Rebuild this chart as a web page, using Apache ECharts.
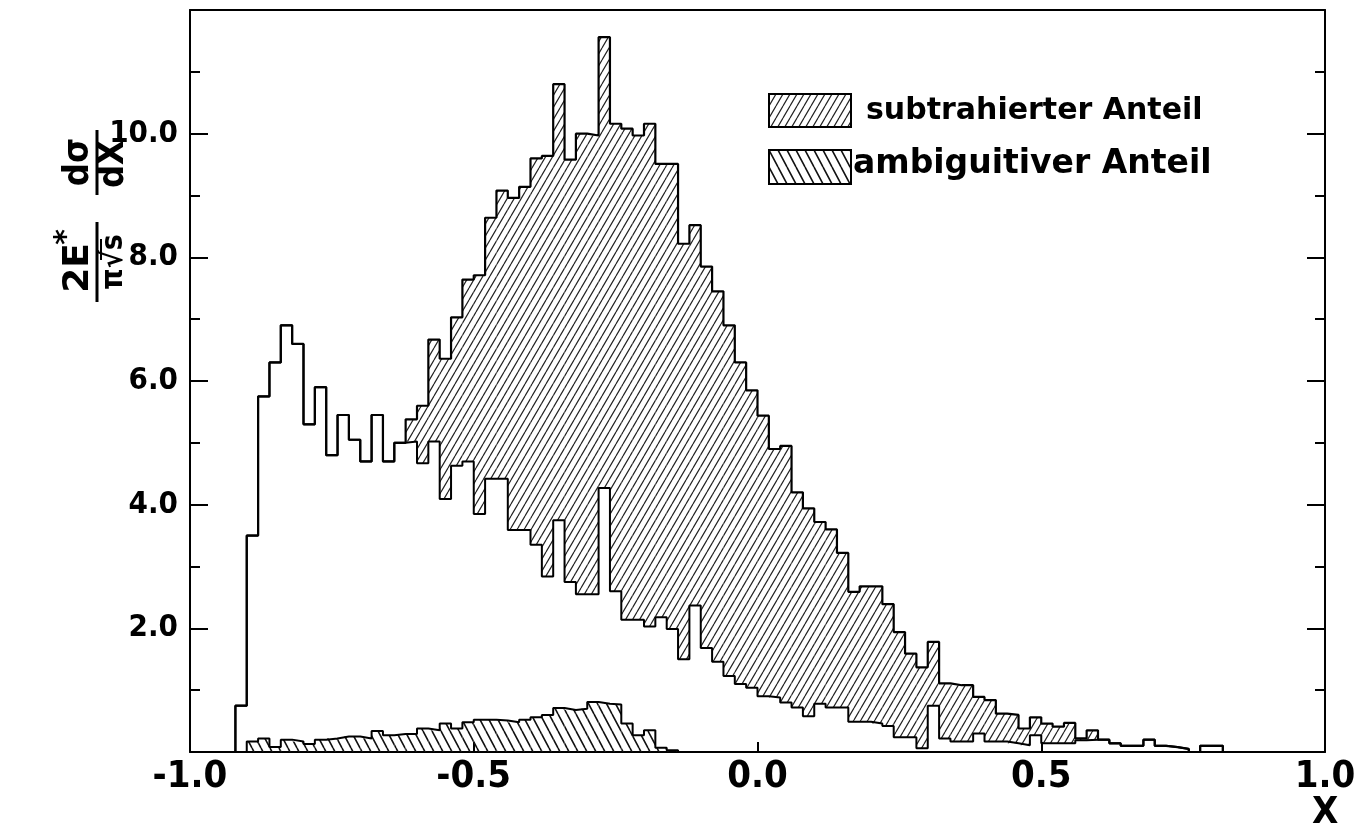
<!DOCTYPE html>
<html>
<head>
<meta charset="utf-8">
<script src="https://cdn.jsdelivr.net/npm/echarts@6/dist/echarts.min.js"></script>
<style>
html,body{margin:0;padding:0;background:#fff;}
#chart{width:1369px;height:840px;}
</style>
</head>
<body>
<div id="chart"></div>
<script>
// ---------- data ----------
const binStart = -0.92;   // left edge of first filled bin
const binWidth = 0.02;

// total distribution (upper outline)
const totalValues = [
  0.75, 3.5, 5.75, 6.3, 6.9, 6.6, 5.3, 5.9, 4.8, 5.45, 5.05, 4.7, 5.45, 4.7, 5.0,
  5.38, 5.6, 6.67, 6.36, 7.03, 7.64, 7.71, 8.64, 9.08, 8.96, 9.14, 9.60, 9.64, 10.8,
  9.58, 10.0, 9.97, 11.56, 10.16, 10.08, 9.97, 10.16, 9.51, 9.51, 8.22, 8.52, 7.85, 7.45, 6.9,
  6.3, 5.85, 5.44, 4.90, 4.95, 4.20, 3.94, 3.72, 3.60, 3.22, 2.59, 2.68, 2.68, 2.39, 1.94, 1.59, 1.37, 1.78,
  1.11, 1.08, 1.08, 0.89, 0.84, 0.62, 0.60, 0.38, 0.56, 0.46, 0.41, 0.47, 0.22, 0.35,
  0.2, 0.14, 0.1, 0.1, 0.2, 0.1, 0.08, 0.05, 0, 0.1, 0.1
];

// remaining distribution after subtraction (lower outline)
const remainderValues = [
  0.75, 3.5, 5.75, 6.3, 6.9, 6.6, 5.3, 5.9, 4.8, 5.45, 5.05, 4.7, 5.45, 4.7, 5.0,
  5.02, 4.67, 5.02, 4.09, 4.63, 4.70, 3.85, 4.42, 4.42, 3.59, 3.59, 3.35, 2.84, 3.75,
  2.75, 2.55, 2.55, 4.27, 2.6, 2.14, 2.14, 2.03, 2.18, 1.99, 1.50, 2.37, 1.68, 1.46, 1.23,
  1.1, 1.04, 0.90, 0.88, 0.80, 0.72, 0.58, 0.78, 0.72, 0.72, 0.49, 0.49, 0.46, 0.42, 0.24, 0.24, 0.06, 0.75,
  0.22, 0.17, 0.17, 0.30, 0.17, 0.17, 0.14, 0.11, 0.27, 0.14, 0.14, 0.14, 0.19, 0.2,
  0.2, 0.14, 0.1, 0.1, 0.2, 0.1, 0.08, 0.05, 0, 0.1, 0.1
];

// ambiguous part
const ambiguousStart = -0.90;
const ambiguousValues = [
  0.17, 0.22, 0.08, 0.20, 0.17, 0.13, 0.20, 0.22, 0.25, 0.25,
  0.22, 0.34, 0.27, 0.29, 0.29, 0.38, 0.35, 0.46, 0.38, 0.48,
  0.52, 0.52, 0.51, 0.48, 0.52, 0.56, 0.60, 0.71, 0.68, 0.70,
  0.81, 0.78, 0.77, 0.46, 0.27, 0.35, 0.07, 0.03
];

const legendLabels = ['subtrahierter Anteil', 'ambiguitiver Anteil'];
const xAxisTitle = 'X';

// ---------- helpers ----------
function makeHatch(w, h, dir, lw, color) {
  const c = document.createElement('canvas');
  c.width = w; c.height = h;
  const ctx = c.getContext('2d');
  ctx.strokeStyle = color;
  ctx.lineWidth = lw;
  ctx.beginPath();
  for (let k = -1; k <= 1; k++) {
    if (dir === '/') { ctx.moveTo(k * w, h); ctx.lineTo(k * w + w, 0); }
    else { ctx.moveTo(k * w, 0); ctx.lineTo(k * w + w, h); }
  }
  ctx.stroke();
  return c;
}
const subPattern = makeHatch(7, 12, '/', 1.2, '#222');
const ambPattern = makeHatch(9, 17, '\\', 1.6, '#111');

function edge(start, i) { return +(start + i * binWidth).toFixed(4); }

function stepPoints(start, values) {
  const pts = [[edge(start, 0), 0]];
  values.forEach((v, i) => pts.push([edge(start, i), v]));
  pts.push([edge(start, values.length), 0]);
  return pts;
}

const subItems = [];
totalValues.forEach((t, i) => {
  const r = remainderValues[i];
  if (t !== r) subItems.push([edge(binStart, i), edge(binStart, i + 1), Math.min(t, r), Math.max(t, r)]);
});
const ambItems = ambiguousValues.map((v, i) => [edge(ambiguousStart, i), edge(ambiguousStart, i + 1), 0, v]);

function hatchSeries(items, pattern, z) {
  return {
    type: 'custom', silent: true, z: z, clip: true,
    data: items,
    encode: { x: [0, 1], y: [2, 3] },
    renderItem: function (params, api) {
      const a = api.coord([api.value(0), api.value(3)]);
      const b = api.coord([api.value(1), api.value(2)]);
      return {
        type: 'rect',
        shape: { x: a[0], y: a[1], width: b[0] - a[0], height: b[1] - a[1] },
        style: { fill: { image: pattern, repeat: 'repeat' } }
      };
    }
  };
}

function stepSeries(points, width) {
  return {
    type: 'line', step: 'end', data: points, symbol: 'none', showSymbol: false,
    silent: true, z: 5,
    lineStyle: { color: '#000', width: width }
  };
}

const tickFont = 'DejaVu Sans Condensed';
const axisLineStyle = { color: '#000', width: 2 };

const chart = echarts.init(document.getElementById('chart'), null, { renderer: 'canvas' });
chart.setOption({
  animation: false,
  backgroundColor: '#fff',
  grid: { left: 190, right: 44, top: 10, bottom: 88 },
  xAxis: [
    {
      type: 'value', min: -1, max: 1, interval: 0.5, position: 'bottom',
      axisLine: { show: true, onZero: false, lineStyle: axisLineStyle },
      axisTick: { show: true, inside: true, length: 10, lineStyle: axisLineStyle },
      axisLabel: { formatter: v => v.toFixed(1), color: '#000', fontSize: 38, fontWeight: 'bold', fontFamily: tickFont, margin: 6 },
      splitLine: { show: false }
    },
    {
      type: 'value', min: -1, max: 1, interval: 0.5, position: 'top',
      axisLine: { show: true, onZero: false, lineStyle: axisLineStyle },
      axisTick: { show: false },
      axisLabel: { show: false }, splitLine: { show: false }
    }
  ],
  yAxis: [
    {
      type: 'value', min: 0, max: 12, interval: 2, position: 'left',
      axisLine: { show: true, onZero: false, lineStyle: axisLineStyle },
      axisTick: { show: true, inside: true, length: 18, lineStyle: axisLineStyle },
      minorTick: { show: true, splitNumber: 2, length: 10, lineStyle: { color: '#000', width: 2 } },
      axisLabel: { formatter: v => (v > 0 && v < 12) ? v.toFixed(1) : '', color: '#000', fontSize: 31, fontWeight: 'bold', fontFamily: tickFont, margin: 12 },
      splitLine: { show: false }, minorSplitLine: { show: false }
    },
    {
      type: 'value', min: 0, max: 12, interval: 2, position: 'right',
      axisLine: { show: true, onZero: false, lineStyle: axisLineStyle },
      axisTick: { show: true, inside: true, length: 18, lineStyle: axisLineStyle },
      minorTick: { show: true, splitNumber: 2, length: 10, lineStyle: { color: '#000', width: 2 } },
      axisLabel: { show: false },
      splitLine: { show: false }, minorSplitLine: { show: false }
    }
  ],
  series: [
    hatchSeries(subItems, subPattern, 2),
    hatchSeries(ambItems, ambPattern, 2),
    stepSeries(stepPoints(binStart, totalValues), 2.2),
    stepSeries(stepPoints(binStart, remainderValues), 2),
    stepSeries(stepPoints(ambiguousStart, ambiguousValues), 2)
  ],
  graphic: [
    // legend
    { type: 'rect', left: 768, top: 93, shape: { width: 82, height: 33 },
      style: { fill: { image: subPattern, repeat: 'repeat' }, stroke: '#000', lineWidth: 2 } },
    { type: 'text', left: 866, top: 96, style: { text: legendLabels[0], font: 'bold 30px "DejaVu Sans"', fill: '#000' } },
    { type: 'rect', left: 768, top: 149, shape: { width: 82, height: 34 },
      style: { fill: { image: ambPattern, repeat: 'repeat' }, stroke: '#000', lineWidth: 2 } },
    { type: 'text', left: 853, top: 148, style: { text: legendLabels[1], font: 'bold 33px "DejaVu Sans"', fill: '#000' } },
    // x-axis title
    { type: 'text', left: 1312, top: 794, style: { text: xAxisTitle, font: 'bold 38px "DejaVu Sans Condensed"', fill: '#000' } },
    // y-axis title (rotated formula)
    {
      type: 'group', x: 97, y: 215, rotation: Math.PI / 2,
      children: [
        { type: 'text', x: -53, y: -18, style: { text: '2E', font: 'bold 36px "DejaVu Sans"', fill: '#000', align: 'center', verticalAlign: 'middle' } },
        { type: 'text', x: -22, y: -30, style: { text: '*', font: 'bold 30px "DejaVu Sans"', fill: '#000', align: 'center', verticalAlign: 'middle' } },
        { type: 'line', shape: { x1: -87, y1: 0, x2: -7, y2: 0 }, style: { stroke: '#000', lineWidth: 3 } },
        { type: 'text', x: -47, y: 17, style: { text: 'π√s', font: 'bold 30px "DejaVu Sans Condensed"', fill: '#000', align: 'center', verticalAlign: 'middle' } },
        { type: 'line', shape: { x1: -45, y1: 4, x2: -24, y2: 4 }, style: { stroke: '#000', lineWidth: 2 } },
        { type: 'text', x: 53, y: -18, style: { text: 'dσ', font: 'bold 36px "DejaVu Sans Condensed"', fill: '#000', align: 'center', verticalAlign: 'middle' } },
        { type: 'line', shape: { x1: 20, y1: 0, x2: 85, y2: 0 }, style: { stroke: '#000', lineWidth: 3 } },
        { type: 'text', x: 51, y: 17, style: { text: 'dX', font: 'bold 36px "DejaVu Sans Condensed"', fill: '#000', align: 'center', verticalAlign: 'middle' } }
      ]
    }
  ]
});
</script>
</body>
</html>
